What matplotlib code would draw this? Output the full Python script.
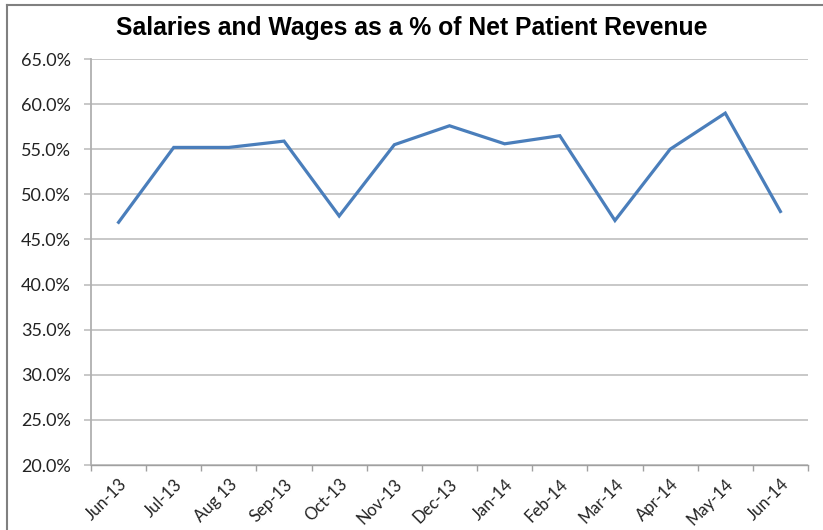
import matplotlib.pyplot as plt
import numpy as np
from matplotlib.ticker import FuncFormatter, MultipleLocator

months = ["Jun-13", "Jul-13", "Aug 13", "Sep-13", "Oct-13", "Nov-13", "Dec-13",
          "Jan-14", "Feb-14", "Mar-14", "Apr-14", "May-14", "Jun-14"]
pct = [46.9, 55.2, 55.2, 55.9, 47.6, 55.5, 57.6, 55.6, 56.5, 47.1, 55.0, 59.0, 48.1]

fig = plt.figure(figsize=(8.23, 5.30), dpi=100)
ax = fig.add_axes([91 / 823, 65 / 530, (808 - 91) / 823, (465 - 59) / 530])

x = np.arange(len(months))
ax.plot(x, pct, color="#4a7ebb", linewidth=2.3, solid_joinstyle="miter")

# y axis
ax.set_ylim(20, 65)
ax.yaxis.set_major_locator(MultipleLocator(5))
ax.yaxis.set_major_formatter(FuncFormatter(lambda v, p: f"{v:.1f}%"))
ax.grid(axis="y", color="#c4c4c4", linewidth=1.3)
ax.set_axisbelow(True)

# x axis: labels at centres, tick marks between categories
ax.set_xlim(-0.5, len(months) - 0.5)
ax.set_xticks(x)
ax.set_xticklabels(months, rotation=45, ha="right", va="top", rotation_mode="anchor")
ax.set_xticks(np.arange(-0.5, len(months)), minor=True)
ax.tick_params(axis="x", which="major", length=0, pad=8)
ax.tick_params(axis="x", which="minor", length=4.3, color="#a0a0a0", width=1)
ax.tick_params(axis="y", length=5, color="#c4c4c4", width=1.3, pad=9.5)

for lab in ax.get_yticklabels():
    lab.set_fontfamily("Lato")
    lab.set_fontsize(13)
    lab.set_color("#222222")
for lab in ax.get_xticklabels():
    lab.set_fontfamily("Lato")
    lab.set_fontsize(12)
    lab.set_color("#222222")

for s in ["top", "right"]:
    ax.spines[s].set_visible(False)
ax.spines["left"].set_color("#b0b0b0")
ax.spines["left"].set_linewidth(1.3)
ax.spines["bottom"].set_color("#a0a0a0")
ax.spines["bottom"].set_linewidth(1)

fig.text(0.5, 1 - 28 / 530, "Salaries and Wages as a % of Net Patient Revenue",
         ha="center", va="center", fontsize=17.8, fontweight="bold",
         family="Liberation Sans")

# chart border (left and top edges visible)
fig.add_artist(plt.Line2D([7 / 823, 7 / 823], [0, 1 - 5 / 530], color="#808080",
                          linewidth=1.5, transform=fig.transFigure))
fig.add_artist(plt.Line2D([7 / 823, 1], [1 - 5 / 530, 1 - 5 / 530], color="#808080",
                          linewidth=1.5, transform=fig.transFigure))

fig.savefig("out.png", dpi=100)
